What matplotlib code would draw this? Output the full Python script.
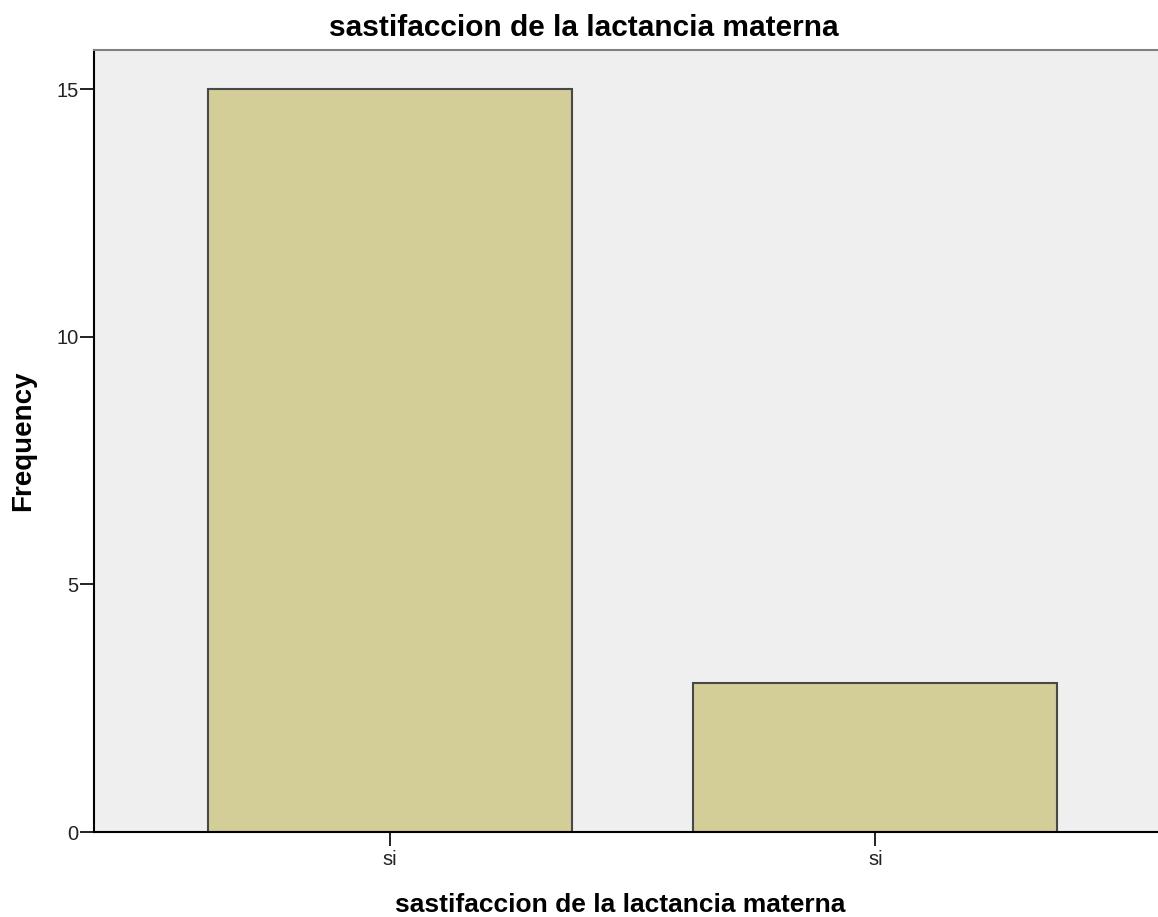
import matplotlib
matplotlib.use("Agg")
import matplotlib.pyplot as plt

categories = ["si", "si"]
frequencies = [15, 3]
yticks = [0, 5, 10, 15]

plt.rcParams['font.family'] = ['Liberation Sans', 'DejaVu Sans']

W, H = 1158, 917
fig = plt.figure(figsize=(W / 100, H / 100), dpi=100)
left, right, top, bottom = 94, 1170, 50, 832
ax = fig.add_axes([left / W, (H - bottom) / H, (right - left) / W, (bottom - top) / H])

positions = list(range(len(categories)))
ax.bar(positions, frequencies, width=0.75, color='#D3CE97',
       edgecolor='#484848', linewidth=1.5, zorder=2)

ax.set_facecolor('#EFEFEF')
ax.set_xlim(-0.61, 1.607)
ax.set_ylim(0, 15.79)
ax.set_xticks(positions)
ax.set_xticklabels(categories)
ax.set_yticks(yticks)
ax.tick_params(axis='both', length=10, width=1.4, labelsize=14.5, colors='#222222')
ax.tick_params(axis='y', pad=1)
ax.tick_params(axis='x', pad=3)

ax.spines['right'].set_visible(False)
ax.spines['top'].set_color('#808080')
ax.spines['top'].set_linewidth(1.5)
ax.spines['left'].set_linewidth(1.5)
ax.spines['bottom'].set_linewidth(1.5)

fig.text(584 / W, 1 - 36 / H, "sastifaccion de la lactancia materna",
         ha='center', va='baseline', fontsize=21.5, fontweight='bold')
fig.text(620 / W, 1 - 912 / H, "sastifaccion de la lactancia materna",
         ha='center', va='baseline', fontsize=19, fontweight='bold')
fig.text(23 / W, 1 - 441 / H, "Frequency", rotation=90,
         ha='center', va='center', fontsize=20, fontweight='bold')

fig.savefig("out.png", dpi=100)
